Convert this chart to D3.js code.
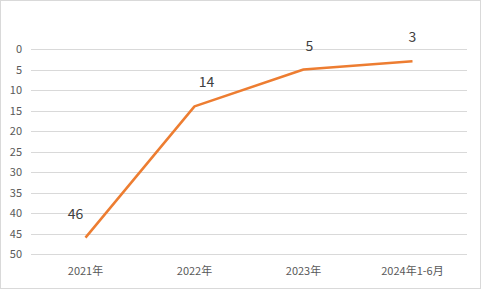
<!DOCTYPE html>
<html>
<head>
  <meta charset="utf-8">
  <script src="https://d3js.org/d3.v7.min.js"></script>
  <style>
    body { margin: 0; background: #fff; }
    text { font-family: "Noto Sans CJK SC", "Noto Sans", sans-serif; }
  </style>
</head>
<body>
<svg id="chart"></svg>
<script>
  var categories = ["2021年", "2022年", "2023年", "2024年1-6月"];
  var values = [46, 14, 5, 3];
  var yTicks = [0, 5, 10, 15, 20, 25, 30, 35, 40, 45, 50];

  var width = 481, height = 289;
  var plotLeft = 31, plotRight = 467, plotTop = 49, plotBottom = 254;

  var svg = d3.select("#chart")
    .attr("width", width)
    .attr("height", height);

  svg.append("rect")
    .attr("x", 0.5).attr("y", 0.5)
    .attr("width", width - 1).attr("height", height - 1)
    .attr("fill", "#fff")
    .attr("stroke", "#d9d9d9");

  var x = d3.scaleBand().domain(categories).range([plotLeft, plotRight]);
  // reversed axis: 0 at the top
  var y = d3.scaleLinear().domain([0, 50]).range([plotTop, plotBottom]);

  svg.append("g")
    .selectAll("line")
    .data(yTicks).enter()
    .append("line")
    .attr("x1", plotLeft).attr("x2", plotRight)
    .attr("y1", d => Math.round(y(d)) + 0.5)
    .attr("y2", d => Math.round(y(d)) + 0.5)
    .attr("stroke", "#d9d9d9");

  svg.append("g")
    .selectAll("text")
    .data(yTicks).enter()
    .append("text")
    .attr("x", 22)
    .attr("y", d => y(d) + 4)
    .attr("text-anchor", "end")
    .attr("font-size", 11)
    .attr("fill", "#595959")
    .text(d => d);

  svg.append("g")
    .selectAll("text")
    .data(categories).enter()
    .append("text")
    .attr("x", d => x(d) + x.bandwidth() / 2)
    .attr("y", 275)
    .attr("text-anchor", "middle")
    .attr("font-size", 11)
    .attr("fill", "#595959")
    .text(d => d);

  var pts = categories.map((c, i) => [x(c) + x.bandwidth() / 2, y(values[i])]);

  svg.append("path")
    .datum(pts)
    .attr("d", d3.line())
    .attr("fill", "none")
    .attr("stroke", "#ED7D31")
    .attr("stroke-width", 2.5)
    .attr("stroke-linejoin", "round");

  var labelDx = [-10, 12, 6, 0];
  svg.append("g")
    .selectAll("text")
    .data(values).enter()
    .append("text")
    .attr("x", (d, i) => pts[i][0] + labelDx[i])
    .attr("y", (d, i) => pts[i][1] - 19)
    .attr("text-anchor", "middle")
    .attr("font-size", 14)
    .attr("fill", "#404040")
    .text(d => d);
</script>
</body>
</html>
